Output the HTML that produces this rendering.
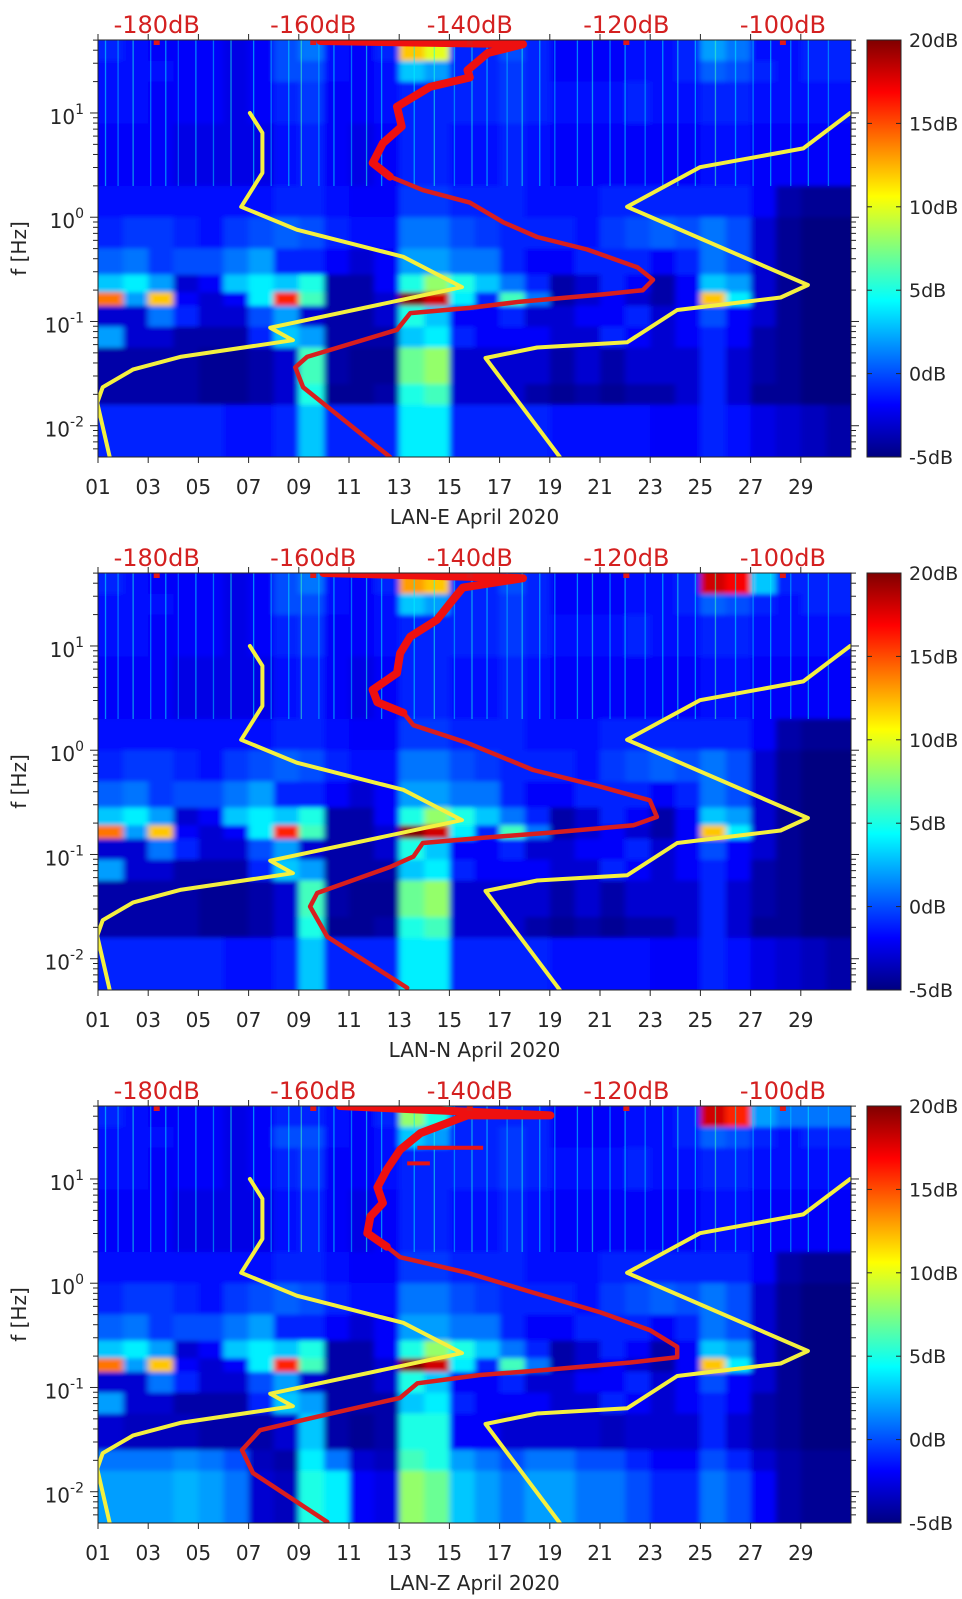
<!DOCTYPE html>
<html><head><meta charset="utf-8"><title>LAN spectrograms April 2020</title>
<style>
html,body{margin:0;padding:0;background:#fff;}
svg{display:block;font-family:"DejaVu Sans","Liberation Sans",sans-serif;}
</style></head>
<body>
<svg id="fig" width="962" height="1599" viewBox="0 0 962 1599" xmlns="http://www.w3.org/2000/svg">
<defs>
<linearGradient id="jet" x1="0" y1="1" x2="0" y2="0">
<stop offset="0" stop-color="rgb(0,0,128)"/>
<stop offset="0.125" stop-color="rgb(0,0,255)"/>
<stop offset="0.375" stop-color="rgb(0,255,255)"/>
<stop offset="0.625" stop-color="rgb(255,255,0)"/>
<stop offset="0.875" stop-color="rgb(255,0,0)"/>
<stop offset="1" stop-color="rgb(128,0,0)"/>
</linearGradient>
<filter id="soft" x="-5%" y="-5%" width="110%" height="110%">
<feGaussianBlur stdDeviation="3 2"/>
</filter>
</defs>
</svg>
<script>
// ---- axes domains ----
const dayMin = 1, dayMax = 31;
const logfMin = -2.30, logfMax = 1.70;
const dbMin = -187.5, dbMax = -91.3;
const cMin = -5, cMax = 20;
const panelNames = ['LAN-E April 2020', 'LAN-N April 2020', 'LAN-Z April 2020'];
const dayTickLabels = ['01','03','05','07','09','11','13','15','17','19','21','23','25','27','29'];
const dayTickValues = [1,3,5,7,9,11,13,15,17,19,21,23,25,27,29];
const dbTickValues = [-180,-160,-140,-120,-100];
const dbTickLabels = ['-180dB','-160dB','-140dB','-120dB','-100dB'];
const cbTickValues = [20,15,10,5,0,-5];
const cbTickLabels = ['20dB','15dB','10dB','5dB','0dB','-5dB'];
const yTickDecades = [1,0,-1,-2];

// ---- spectrogram (coarse) ----
const bandEdges = [1.70,1.50,1.30,0.90,0.30,0.00,-0.30,-0.55,-0.72,-0.85,-1.05,-1.25,-1.60,-1.80,-2.30];
const dayStarts = [1,2,3,4,5,6,7,8,9,10,11,12,13,14,15,16,17,18,19,20,21,22,23,24,25,26,27,28,29,30];
const band0 = [-1,-1.5,-2,-2,-2,-2.5,-2,0,1,-1.5,-2,-1,12,10,-1,-1,0,-1,-2,-2,-2,-1.5,-1.5,-1,2,1,-1.5,-1.5,-1,-1];
const band1 = [-1.5,-1.5,-1.5,-2,-2,-2.5,-2,0,0,-1.5,-2,-1.5,3,2,-1,-1,-0.5,-1,-2,-2,-2,-1.5,-1.5,-1,0.5,0,-1,-1.5,-1,-1];
const band2 = [-1.5,-1.5,-2,-2,-2,-2.5,-2,-1,-0.5,-2,-2,-1.5,-1,-1,-1,-1,-0.5,-1,-1.5,-1.5,-1.5,-1,-1.5,-1.5,-1,-1,-1.5,-1.5,-1.5,-1.5];
const band3 = [-2,-2,-2,-2.5,-2.5,-2.5,-2.5,-1.5,-1,-2,-2.5,-2,-1,-1,-1.5,-1.5,-1,-1.5,-2,-2,-2,-2,-2,-2,-1.5,-1.5,-2,-2,-2,-2];
const band4 = [-1.5,-1.5,-1.5,-1.5,-1.5,-1.5,-1.5,-1,-1,-1.5,-2,-2,-0.5,-0.5,-1,-1,-1,-1.5,-1.5,-1.5,-1,-1,-1,-1,-1,-1,-2,-4,-4.5,-4.5];
const band5 = [-1,-0.5,-0.5,-1,-1.5,-0.5,0,0.5,0,-1,-1.5,-1.5,1,1,0,-0.5,-1,-1,-1,-1.5,-0.5,0,0.5,0,1,0,-3,-4.5,-5,-5];
const band6 = [0.5,1,-0.5,0,0,1,2,-1,-1,-2,-3,-2,2,2,1,1,-1,-2,-2,-1,-1,-1,-2,-1,1,0,-3,-4.5,-5,-5];
const band7 = [3,4,2,-3,-2,3,4,3,5,-4,-4,-2,5,8,5,3,1,-1,-4,-3,-1,-2,-4,-2,3,2,-3,-4.5,-5,-5];
const band8 = [14,2,12,-2,-3,-2,4,16,6,-4,-4,-3,20,18,4,-1,6,1,-4,-3,-2,-3,-4,-2,12,4,-3,-4.5,-5,-5];
const band9 = [-3,-3,1,-1,-3,-3,0,2,-3,-4,-4,-3,5,3,-2,-2,-1,-3,-3,-2,-2,-1,-3,-2,0,-2,-3,-4.5,-5,-5];
const band10 = [2,-3,-3,-4,-4,-4,-1,3,2,-4,-4,-4,3,4,-1,-2,-2,-2,-3,-3,-1,-2,-3,-2,-1,-2,-4,-4.5,-5,-5];
const band11 = [-4,-4,-4,-4,-4.5,-4.5,-4,-3,6,-4,-4.5,-4.5,7,8,-3,-3,-3,-3,-4,-3,-4,-3,-3,-3,-1,-3,-4,-4.5,-5,-5];
const band12 = [-4,-4,-4,-4,-4.5,-4.5,-4,-3,5,-4.5,-4.5,-4,5,6,-3,-3,-3,-4,-4.5,-4,-4.5,-4,-4,-3,-1,-3,-4.5,-4.5,-5,-5];
const band13 = [-1,-1,-1,-1,-1,-1.5,-1.5,-1,3,-1,-1,-1,4,4,-1,-1,-1,-1,-1.5,-1.5,-1.5,-1.5,-2,-2,-1,-1.5,-2.5,-3,-3.5,-4];
const band0N = [-1,-1.5,-2,-2,-2,-2.5,-2,0,1,-1.5,-2,-1,13,12,-1,-1,0,-1,-2,-2,-2,-1.5,-1.5,-1,18,17,3,-1,-1,-1];
const band0Z = [-1,-1.5,-2,-2,-2,-2.5,-2,-1,-1,-1.5,-2,-1,8,5,-1,-1,-1,-1,-2,-2,-2,-1.5,-1.5,-1,18,16,2,1,1,1];
const band11Z = [-3,-3.5,-3.5,-3.5,-4,-4,-4,-3,3,-4,-4.5,-4,5,5,-2,-2,-3,-3,-3,-3,-3.5,-3,-3,-3,-1,-3,-4,-4.5,-5,-5];
const band12Z = [1,1,1,1.5,1,0,-3.5,-4,4,1,-3,-3.5,6,5,2,1,0,1,1,0,0,-1,-2,-2,0,-1,-3,-4,-4.5,-4.5];
const band13Z = [2,2,2,2.5,2,1,-3,-3.5,5,4,-2,-2.5,8,7,3,2,1,2,2,1,1,0,-1,-1,1,0,-2,-4,-4.5,-4.5];

const streakDays = [1.3,1.8,2.4,3.1,3.7,4.2,4.9,5.6,6.3,7.2,7.9,8.6,9.1,9.8,10.4,11.1,11.7,12.3,13.6,14.4,15.2,15.9,16.5,17.3,17.9,18.6,19.2,20.1,20.7,21.4,22.0,22.8,23.5,24.1,24.8,25.6,26.4,27.1,27.8,28.6,29.3,30.1];
const streakLevels = [4,3,5,3,4,2,4,3,5,4,3,4,6,3,4,3,5,4,4,5,3,5,4,3,5,4,3,4,5,3,4,3,4,5,4,6,4,3,4,3,4,3];

const nlnmDb = [-168.1,-166.5,-166.5,-169.2,-162.1,-148.5,-141.0,-165.5,-162.6,-177.0,-183.0,-186.9,-187.6,-186.0];
const nlnmLogF = [1.0,0.81,0.425,0.10,-0.12,-0.38,-0.67,-1.06,-1.18,-1.34,-1.46,-1.63,-1.78,-2.30];
const nhnmDb = [-91.4,-97.4,-110.6,-119.9,-96.8,-100.3,-113.5,-119.9,-131.4,-138.0,-128.5];
const nhnmLogF = [1.0,0.66,0.48,0.10,-0.65,-0.77,-0.89,-1.20,-1.25,-1.35,-2.30];

const redDbE = [-159.1,-133.2,-137.7,-140.3,-140.0,-145.1,-149.3,-148.7,-151.1,-152.4,-150.2,-146.0,-140.0,-135.7,-131.4,-125.0,-118.6,-116.6,-117.9,-123.0,-133.6,-140.0,-147.6,-149.3,-160.8,-162.3,-161.3,-150.2];
const redLogFE = [1.69,1.66,1.575,1.41,1.34,1.25,1.06,0.87,0.71,0.52,0.39,0.26,0.14,-0.05,-0.19,-0.31,-0.48,-0.60,-0.70,-0.74,-0.81,-0.87,-0.92,-1.08,-1.34,-1.44,-1.63,-2.30];
const redDbN = [-158.7,-133.2,-140.9,-142.5,-144.2,-147.6,-148.9,-149.3,-152.4,-151.8,-148.5,-147.2,-140.3,-131.9,-123.3,-117.0,-116.1,-119.1,-129.7,-138.3,-146.0,-147.2,-150.2,-159.5,-160.4,-158.2,-148.0];
const redLogFN = [1.70,1.65,1.56,1.41,1.25,1.09,0.93,0.74,0.58,0.46,0.36,0.24,0.07,-0.19,-0.35,-0.48,-0.64,-0.72,-0.79,-0.84,-0.89,-1.02,-1.12,-1.37,-1.50,-1.79,-2.28];
const redDbZ = [-156.6,-129.7,-140.3,-146.3,-148.9,-150.6,-151.8,-151.1,-152.7,-153.1,-150.6,-148.9,-140.3,-131.9,-123.3,-117.0,-113.5,-113.5,-119.5,-130.1,-138.7,-146.7,-148.9,-159.5,-166.8,-169.1,-167.7,-158.2];
const redLogFZ = [1.70,1.61,1.61,1.44,1.28,1.09,0.92,0.77,0.64,0.48,0.35,0.25,0.10,-0.09,-0.28,-0.45,-0.61,-0.71,-0.76,-0.83,-0.88,-0.96,-1.10,-1.28,-1.41,-1.60,-1.82,-2.29];
const spikeLogFZ = [1.30,1.15];
const spikeDbStartZ = [-146.7,-148.0];
const spikeDbEndZ = [-138.3,-145.1];

const NS = 'http://www.w3.org/2000/svg';
const svg = document.getElementById('fig');
const tops = [40, 573, 1106];
const L = 98, R = 851, H = 417;
const CBL = 867, CBR = 901;

function el(tag, attrs, parent) {
  const e = document.createElementNS(NS, tag);
  for (const k in attrs) e.setAttribute(k, attrs[k]);
  (parent || svg).appendChild(e);
  return e;
}
function jet(v) {
  let t = (v - cMin) / (cMax - cMin);
  t = Math.max(0, Math.min(1, t));
  const c = x => Math.round(255 * Math.max(0, Math.min(1, x)));
  return 'rgb(' + c(1.5 - Math.abs(4*t - 3)) + ',' + c(1.5 - Math.abs(4*t - 2)) + ',' + c(1.5 - Math.abs(4*t - 1)) + ')';
}

const panels = [
  {bands:[band0,band1,band2,band3,band4,band5,band6,band7,band8,band9,band10,band11,band12,band13], rdb:redDbE, rlf:redLogFE},
  {bands:[band0N,band1,band2,band3,band4,band5,band6,band7,band8,band9,band10,band11,band12,band13], rdb:redDbN, rlf:redLogFN},
  {bands:[band0Z,band1,band2,band3,band4,band5,band6,band7,band8,band9,band10,band11Z,band12Z,band13Z], rdb:redDbZ, rlf:redLogFZ}
];

panels.forEach((P, pi) => {
  const top = tops[pi], bot = top + H;
  const X = d => L + (d - dayMin) / (dayMax - dayMin) * (R - L);
  const Y = lf => top + (logfMax - lf) / (logfMax - logfMin) * H;
  const DX = db => L + (db - dbMin) / (dbMax - dbMin) * (R - L);
  const g = el('g', {});
  
  

  const cid = 'clip' + pi;
  const cp = el('clipPath', {id: cid}, g);
  el('rect', {x: L, y: top, width: R - L, height: H}, cp);

  const clipG = el('g', {'clip-path': 'url(#' + cid + ')'}, g);
  const hm = el('g', {filter: 'url(#soft)'}, clipG);
  
  
  P.bands.forEach((row, b) => {
    row.forEach((v, i) => {
      const x0 = X(dayStarts[i]), x1 = X(dayStarts[i] + 1);
      let y0 = Y(bandEdges[b]), y1 = Y(bandEdges[b + 1]);
      if (b === 0) y0 -= 12;
      if (b === P.bands.length - 1) y1 += 12;
      let xa = x0, xb = x1;
      if (i === 0) xa -= 14;
      if (i === row.length - 1) xb += 14;
      const r = el('rect', {x: xa, y: y0, width: xb - xa + 0.6, height: y1 - y0 + 0.6, fill: jet(v)}, hm);
      
      
    });
  });
  const st = el('g', {opacity: 0.55}, clipG);
  
  
  streakDays.forEach((d, i) => {
    const x = X(d);
    const s = el('line', {x1: x, x2: x, y1: Y(1.70), y2: Y(0.30), stroke: jet(streakLevels[i]), 'stroke-width': 1.3}, st);
    
    
  });

  const lines = el('g', {'clip-path': 'url(#' + cid + ')'}, g);
  function poly(dbs, lfs, color, w, name) {
    const pts = dbs.map((d, i) => DX(d).toFixed(1) + ',' + Y(lfs[i]).toFixed(1)).join(' ');
    const p = el('polyline', {points: pts, fill: 'none', stroke: color, 'stroke-width': w, 'stroke-linejoin': 'round', 'stroke-linecap': 'round'}, lines);
    
    
    return p;
  }
  poly(nlnmDb, nlnmLogF, '#f4f040', 4, 'low-noise-model-line');
  poly(nhnmDb, nhnmLogF, '#f4f040', 4, 'high-noise-model-line');
  poly(P.rdb, P.rlf, '#d81e1e', 4.5, 'median-psd-line');
  const upDb = [], upLf = [];
  P.rlf.forEach((lf, i) => { if (lf > 0.3) { upDb.push(P.rdb[i]); upLf.push(lf); } });
  poly(upDb, upLf, '#ee1010', 8, 'median-psd-upper-line');
  if (pi === 2) {
    spikeLogFZ.forEach((lf, i) => {
      const s = el('line', {x1: DX(spikeDbStartZ[i]), x2: DX(spikeDbEndZ[i]), y1: Y(lf), y2: Y(lf), stroke: '#e81414', 'stroke-width': 4}, lines);
      
      
    });
  }
  dbTickValues.forEach(db => {
    const m = el('rect', {x: DX(db) - 3, y: top, width: 6, height: 5, fill: '#e01818'}, g);
    
    
  });

  const fr = el('rect', {x: L, y: top, width: R - L, height: H, fill: 'none', stroke: '#262626', 'stroke-width': 1}, g);
  
  

  dayTickValues.forEach((d, i) => {
    const x = X(d);
    el('line', {x1: x, x2: x, y1: bot, y2: bot + 6, stroke: '#262626'}, g);
    el('line', {x1: x, x2: x, y1: top, y2: top - 6, stroke: '#262626'}, g);
    const t = el('text', {x: x, y: bot + 37, 'text-anchor': 'middle', 'font-size': 20, fill: '#262626'}, g);
    t.textContent = dayTickLabels[i];
    
    
  });
  const xl = el('text', {x: (L + R) / 2, y: bot + 67, 'text-anchor': 'middle', 'font-size': 20, fill: '#262626'}, g);
  xl.textContent = panelNames[pi];
  
  

  dbTickValues.forEach((db, i) => {
    const t = el('text', {x: DX(db), y: top - 7, 'text-anchor': 'middle', 'font-size': 24, fill: '#d42020'}, g);
    t.textContent = dbTickLabels[i];
    
    
  });

  for (let k = -3; k <= 1; k++) {
    for (let m = 1; m <= 9; m++) {
      const lf = k + Math.log10(m);
      if (lf < logfMin - 1e-6 || lf > logfMax + 1e-6) continue;
      const y = Y(lf), len = m === 1 ? 8 : 5;
      el('line', {x1: L - len, x2: L, y1: y, y2: y, stroke: '#262626'}, g);
      el('line', {x1: R, x2: R + len, y1: y, y2: y, stroke: '#262626'}, g);
    }
  }
  yTickDecades.forEach(k => {
    const y = Y(k);
    const t = el('text', {x: 84, y: y + 11, 'text-anchor': 'end', 'font-size': 20, fill: '#262626'}, g);
    
    
    const a = el('tspan', {}, t); a.textContent = '10';
    const b = el('tspan', {dy: -10, 'font-size': 14}, t); b.textContent = String(k);
  });
  const yl = el('text', {x: 0, y: 0, 'text-anchor': 'middle', 'font-size': 20, fill: '#262626', transform: 'translate(26,' + (top + H / 2) + ') rotate(-90)'}, g);
  yl.textContent = 'f [Hz]';
  
  

  const cb = el('rect', {x: CBL, y: top, width: CBR - CBL, height: H, fill: 'url(#jet)', stroke: '#262626', 'stroke-width': 1}, g);
  
  
  cbTickValues.forEach((v, i) => {
    const y = top + (cMax - v) / (cMax - cMin) * H;
    el('line', {x1: CBR - 5, x2: CBR, y1: y, y2: y, stroke: '#262626'}, g);
    el('line', {x1: CBL, x2: CBL + 5, y1: y, y2: y, stroke: '#262626'}, g);
    const t = el('text', {x: 909, y: y + 7, 'font-size': 19, fill: '#262626'}, g);
    t.textContent = cbTickLabels[i];
    
    
  });
});
</script>
</body></html>
